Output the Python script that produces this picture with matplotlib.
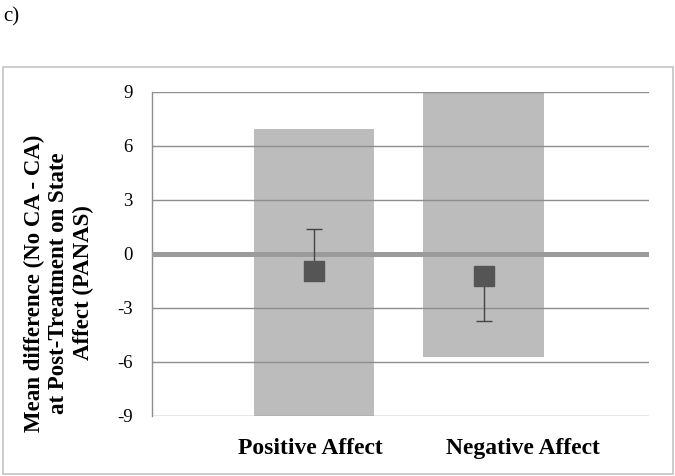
import numpy as np
import matplotlib
matplotlib.use("Agg")
import matplotlib.pyplot as plt
from matplotlib.patches import Rectangle

# data
categories = ['Positive Affect', 'Negative Affect']
bar_low = [-9.0, -5.7]
bar_high = [6.94, 9.0]
means = [-0.93, -1.2]
err_low = [0.0, 2.5]
err_high = [2.32, 0.0]
yticks = [-9, -6, -3, 0, 3, 6, 9]

fig = plt.figure(figsize=(6.75, 4.76), dpi=100)
W, H = 675, 476

# outer chart border
fig.patches.append(Rectangle((3 / W, 2 / H), 670 / W, (474 - 67) / H,
                             transform=fig.transFigure, fill=False,
                             edgecolor='#c4c4c4', lw=1.2))
fig.text(3 / W, 1 - 17 / H, 'c)', fontsize=15, family='Liberation Serif',
         va='center', ha='left')

ax = fig.add_axes([152 / W, 1 - 416 / H, 497 / W, 324 / H])

x = np.arange(len(categories))
heights = np.array(bar_high) - np.array(bar_low)
ax.bar(x, heights, bottom=bar_low, width=0.71, color='#bdbcbd', zorder=1)

# gridlines on top of the bars
for t in yticks:
    if t == 0:
        continue
    ax.axhline(t, color='#8e8e8e', lw=1.0, zorder=2)
ax.axhline(0, color='#9b9b9b', lw=3.6, zorder=3)

ax.errorbar(x, means, yerr=[err_low, err_high], fmt='none', ecolor='#444444',
            elinewidth=1.0, capsize=6, capthick=1.0, zorder=4)
ax.plot(x, means, ls='none', marker='s', markersize=14, color='#555555',
        zorder=5)

ax.set_xlim(-0.956, 1.976)
ax.set_ylim(-9, 9)
ax.set_yticks(yticks)
ax.set_yticklabels([str(t) for t in yticks], family='Liberation Serif',
                   fontsize=13.5)
ax.tick_params(axis='y', length=0, pad=14)

ax.set_xticks([-0.02, 1.23])
ax.set_xticklabels(categories, family='Liberation Serif', fontweight='bold',
                   fontsize=17)
ax.tick_params(axis='x', length=0, pad=16)

for s in ['top', 'right', 'bottom']:
    ax.spines[s].set_visible(False)
ax.spines['left'].set_color('#8e8e8e')
ax.spines['left'].set_linewidth(1.0)

fig.text(59 / W, 1 - 283 / H,
         'Mean difference (No CA - CA)\nat Post-Treatment on State\nAffect (PANAS)',
         rotation=90, ha='center', va='center', multialignment='center',
         family='Liberation Serif', fontweight='bold', fontsize=16.5,
         linespacing=1.2)

fig.savefig('out.png', dpi=100)
